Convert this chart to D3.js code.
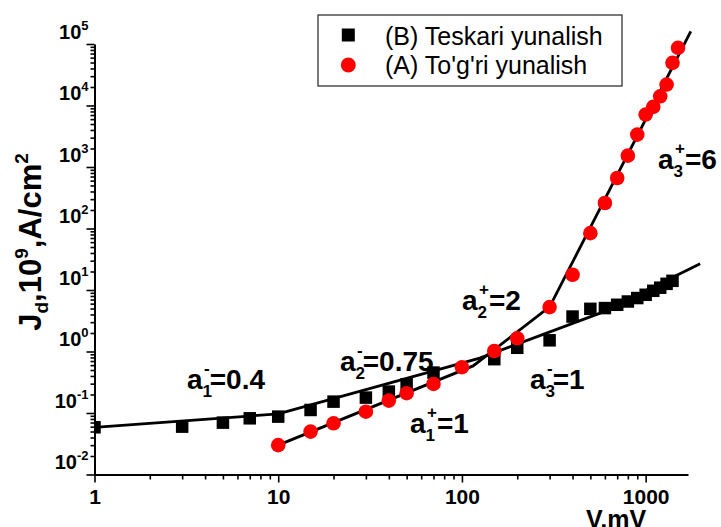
<!DOCTYPE html>
<html>
<head>
<meta charset="utf-8">
<script src="https://cdn.jsdelivr.net/npm/d3@7"></script>
<style>
  body { margin: 0; background: #fff; }
  svg { display: block; }
  text { font-family: "Liberation Sans", Arial, sans-serif; }
</style>
</head>
<body>
<svg id="chart" width="721" height="527"></svg>
<script>
// Reverse-bias (B) current density vs voltage
const voltageB = [1, 3, 5, 7, 10, 15, 20, 30, 40, 50, 70, 150, 200, 300, 400, 500, 600, 700, 800, 900, 1000, 1100, 1200, 1300, 1400];
const currentB = [0.0586, 0.060, 0.0697, 0.082, 0.0873, 0.112, 0.153, 0.178, 0.223, 0.294, 0.454, 0.75, 1.15, 1.52, 3.7, 4.94, 5.08, 5.75, 6.5, 7.4, 8.36, 9.7, 10.9, 12.6, 14.1];

// Forward-bias (A) current density vs voltage
const voltageA = [10, 15, 20, 30, 40, 50, 70, 100, 150, 200, 300, 400, 500, 600, 700, 800, 900, 1000, 1100, 1200, 1300, 1400, 1500];
const currentA = [0.030, 0.0498, 0.068, 0.105, 0.159, 0.21, 0.297, 0.556, 1.02, 1.64, 5.27, 17.7, 84, 260, 663, 1530, 3365, 7120, 9500, 14100, 21900, 49400, 86700];

// Power-law fit segments (break points)
const fitBVoltage = [1, 10, 125, 565, 1980];
const fitBCurrent = [0.0585, 0.0966, 0.78, 4.21, 26.7];
const fitAVoltage = [10, 115, 300, 1760];
const fitACurrent = [0.030, 0.583, 5.3, 161000];

// Axis ticks
const xTickValues = [1, 10, 100, 1000];
const xTickLabels = ["1", "10", "100", "1000"];
const yTickExponents = [-2, -1, 0, 1, 2, 3, 4, 5];

// Legend and slope annotations
const legendLabels = ["(B) Teskari yunalish", "(A) To'g'ri yunalish"];
const slopeIndex = ["1", "2", "3", "1", "2", "3"];
const slopeSign = ["-", "-", "-", "+", "+", "+"];
const slopeValue = ["0.4", "0.75", "1", "1", "2", "6"];

const svg = d3.select("#chart");

const x = d3.scaleLog().domain([1, 1700]).range([94.5, 688]);
const y = d3.scaleLog().domain([0.01, 1e5]).range([474.5, 44]);

const FONT = '"Liberation Sans", Arial, sans-serif';

// minor tick values
const xMinor = [];
for (let k = 0; k <= 3; k++) for (let m = 2; m <= 9; m++) {
  const v = m * Math.pow(10, k);
  if (v <= 1700) xMinor.push(v);
}
const yMinor = [];
for (let k = -2; k <= 4; k++) for (let m = 2; m <= 9; m++) yMinor.push(m * Math.pow(10, k));

// X axis
const gx = svg.append("g").attr("transform", "translate(0,474.5)");
gx.append("g")
  .call(d3.axisBottom(x).tickValues(xMinor).tickSize(5).tickSizeOuter(0).tickFormat(""))
  .call(g => g.select(".domain").remove());
gx.append("g")
  .call(d3.axisBottom(x).tickValues(xTickValues).tickSize(8).tickSizeOuter(0)
    .tickPadding(7).tickFormat((d, i) => xTickLabels[i]));
gx.selectAll("text").attr("font-size", 21).attr("font-weight", "bold").attr("font-family", FONT).attr("fill", "#000");
gx.selectAll("line").attr("stroke", "#000").attr("stroke-width", 1.6);
gx.selectAll(".domain").attr("stroke", "#000").attr("stroke-width", 2);

// Y axis
const gy = svg.append("g").attr("transform", "translate(94.5,0)");
gy.append("g")
  .call(d3.axisLeft(y).tickValues(yMinor).tickSize(4).tickSizeOuter(0).tickFormat(""))
  .call(g => g.select(".domain").remove());
gy.append("g")
  .call(d3.axisLeft(y).tickValues(yTickExponents.map(e => Math.pow(10, e))).tickSize(8).tickSizeOuter(0)
    .tickPadding(0).tickFormat(""))
  .call(g => g.selectAll(".tick").each(function(d, i) {
    const t = d3.select(this).append("text")
      .attr("x", -6).attr("y", -6)
      .attr("text-anchor", "end")
      .attr("font-family", FONT).attr("font-weight", "bold").attr("font-size", 20)
      .attr("fill", "#000");
    t.append("tspan").text("10");
    t.append("tspan").attr("font-size", 13).attr("dy", -9).text(String(yTickExponents[i]));
  }));
gy.selectAll("line").attr("stroke", "#000").attr("stroke-width", 1.6);
gy.selectAll(".domain").attr("stroke", "#000").attr("stroke-width", 2);

// Axis titles
const yTitle = svg.append("text")
  .attr("transform", "translate(41,242) rotate(-90)")
  .attr("text-anchor", "middle")
  .attr("font-family", FONT).attr("font-weight", "bold").attr("font-size", 31).attr("fill", "#000");
yTitle.append("tspan").text("J");
yTitle.append("tspan").attr("font-size", 19).attr("dy", 7).text("d");
yTitle.append("tspan").attr("dy", -7).text(",10");
yTitle.append("tspan").attr("font-size", 19).attr("dy", -13).text("9");
yTitle.append("tspan").attr("dy", 13).text(",A/cm");
yTitle.append("tspan").attr("font-size", 19).attr("dy", -13).text("2");

svg.append("text")
  .attr("x", 616).attr("y", 528)
  .attr("text-anchor", "middle")
  .attr("font-family", FONT).attr("font-weight", "bold").attr("font-size", 25).attr("fill", "#000")
  .text("V,mV");

// Fit lines
const line = d3.line().x(d => x(d[0])).y(d => y(d[1]));
svg.append("path")
  .datum(fitBVoltage.map((v, i) => [v, fitBCurrent[i]]))
  .attr("d", line).attr("fill", "none").attr("stroke", "#000").attr("stroke-width", 2.8);
svg.append("path")
  .datum(fitAVoltage.map((v, i) => [v, fitACurrent[i]]))
  .attr("d", line).attr("fill", "none").attr("stroke", "#000").attr("stroke-width", 2.8);

// Markers, clipped to the plot frame
svg.append("clipPath").attr("id", "plotClip")
  .append("rect").attr("x", x(1)).attr("y", y(1e5) - 10)
  .attr("width", x(1700) - x(1)).attr("height", y(0.01) - y(1e5) + 10);

const marks = svg.append("g").attr("clip-path", "url(#plotClip)");
const SQ = 12.5;
marks.selectAll("rect.b")
  .data(voltageB.map((v, i) => [v, currentB[i]]))
  .join("rect").attr("class", "b")
  .attr("x", d => x(d[0]) - SQ / 2).attr("y", d => y(d[1]) - SQ / 2)
  .attr("width", SQ).attr("height", SQ).attr("fill", "#000");
marks.selectAll("circle.a")
  .data(voltageA.map((v, i) => [v, currentA[i]]))
  .join("circle").attr("class", "a")
  .attr("cx", d => x(d[0])).attr("cy", d => y(d[1]))
  .attr("r", 7.3).attr("fill", "#ff0000");

// Slope annotations: "a", index below, sign above, then "=value"
const slopePos = [[187, 389], [340, 371], [530, 389], [410, 433], [462, 310], [658, 169]];
slopePos.forEach((p, i) => {
  const t = svg.append("text")
    .attr("x", p[0]).attr("y", p[1])
    .attr("font-family", FONT).attr("font-weight", "bold").attr("font-size", 28).attr("fill", "#000");
  t.append("tspan").text("a");
  t.append("tspan").attr("font-size", 17).attr("dy", 8).text(slopeIndex[i]);
  t.append("tspan").attr("font-size", 17).attr("dx", -8).attr("dy", -23).text(slopeSign[i]);
  t.append("tspan").attr("dy", 15).text("=" + slopeValue[i]);
});

// Legend
const lg = svg.append("g");
lg.append("rect").attr("x", 318).attr("y", 15).attr("width", 304).attr("height", 71)
  .attr("fill", "#fff").attr("stroke", "#222").attr("stroke-width", 1.2);
lg.append("rect").attr("x", 348.3 - 6.5).attr("y", 35 - 6.5).attr("width", 13).attr("height", 13).attr("fill", "#000");
lg.append("circle").attr("cx", 348.3).attr("cy", 65).attr("r", 7.5).attr("fill", "#ff0000");
legendLabels.forEach((s, i) => {
  lg.append("text").attr("x", 385).attr("y", 45 + i * 29)
    .attr("font-family", FONT).attr("font-size", 25).attr("fill", "#000").text(s);
});
</script>
</body>
</html>
